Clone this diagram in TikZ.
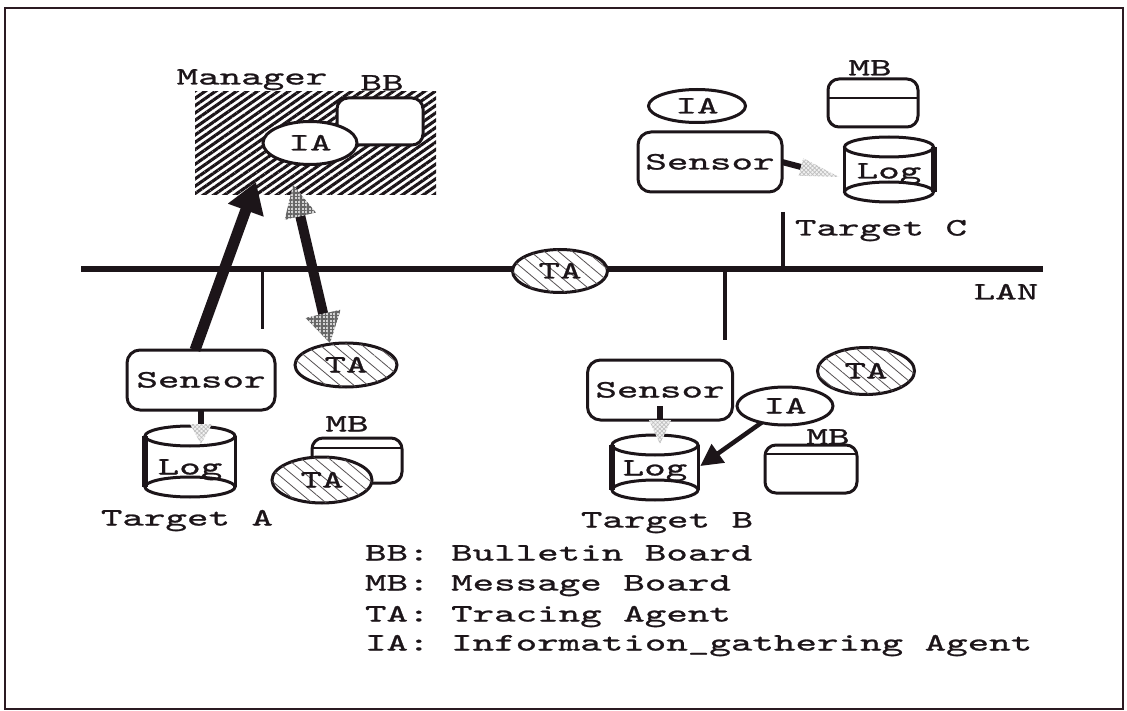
\documentclass[tikz,border=0pt]{standalone}
\usepackage{fontspec}
\newfontfamily\typewriterface[FakeStretch=1.64,FakeBold=1]{lmmono10-regular.otf}
\usetikzlibrary{shapes.geometric,patterns.meta,arrows.meta,calc}
\definecolor{ink}{HTML}{1C1519}
\definecolor{framecol}{HTML}{2B1A22}
\newcommand\diagfont{\typewriterface\fontsize{25}{28}\selectfont}

% log store: name, half width, rise to the rim, drop to the base, heavier wall
\newcommand\logcyl[5]{%
  \draw[outline] ($(#1)+(0,-#3)$) ellipse [x radius=#2pt, y radius=10pt];
  \draw[outline] ($(#1)+(0,#4)$) ellipse [x radius=#2pt, y radius=10pt];
  \draw[outline] ($(#1)+(-#2,-#3)$) -- ($(#1)+(-#2,#4)$);
  \draw[outline] ($(#1)+(#2,-#3)$) -- ($(#1)+(#2,#4)$);
  \draw[outline, line width=6pt] ($(#1)+(#5*#2,-#3)$) -- ($(#1)+(#5*#2,#4)$);
}

\tikzset{
  every node/.style={font=\diagfont, text=ink, inner sep=0pt, outer sep=0pt,
    text height=15pt, text depth=0pt},
  outline/.style={draw=ink, line width=3pt},
  sensorbox/.style={outline, rectangle, rounded corners=13pt, fill=white, minimum height=60pt},
  boardbox/.style={outline, rectangle, rounded corners=11pt, fill=white},
  agent/.style={outline, ellipse, fill=white},
  tracer/.style={agent, postaction={pattern={Lines[angle=-40,distance=9pt,line width=0.8pt]},
    pattern color=ink!75}},
  hatchzone/.style={rectangle, pattern={Lines[angle=35,distance=6pt,line width=3.1pt]},
    pattern color=ink},
  meshhead/.style={fill=gray!35, postaction={pattern={Hatch[angle=0,distance=3.5pt,line width=1.2pt]},
    pattern color=gray!80!black}},
  palehead/.style={fill=gray!10, postaction={pattern={Hatch[angle=45,distance=3pt,line width=0.7pt]},
    pattern color=gray!50}},
  bus/.style={draw=ink, line width=6.5pt},
  tap/.style={draw=ink, line width=4pt},
  lidline/.style={draw=ink, line width=2.5pt},
}

\begin{document}
\begin{tikzpicture}[x=1pt, y=-1pt]
\useasboundingbox (0,0) rectangle (1127,711);
\fill[white] (0,0) rectangle (1127,711);
\draw[framecol, line width=2.2pt] (5,8) rectangle (1123,709);

% ---------- manager ----------
\node[hatchzone, minimum width=241pt, minimum height=103pt] (mgr) at (315.5,143.5) {};
\node (mgrlabel) at (252,77) {Manager};
\node (bblabel) at (382,83) {BB};
\node[boardbox, minimum width=86pt, minimum height=47pt] (bb) at (380,121.5) {};
\node[agent, minimum width=94pt, minimum height=43pt] (iaM) at (310,143) {IA};

% ---------- LAN ----------
\coordinate (lanW) at (81,269);
\coordinate (lanE) at (1043,269);
\draw[bus] (lanW) -- (lanE);
\node (lanlabel) at (1006,292) {LAN};

\coordinate (tapA) at (262,329);
\coordinate (tapB) at (725,340);
\coordinate (tapC) at (783,212);
\draw[tap, line width=3pt] (tapA |- lanW) -- (tapA);
\draw[tap] (tapB |- lanW) -- (tapB);
\draw[tap] (tapC) -- (tapC |- lanW);

\node[tracer, minimum width=95pt, minimum height=43pt] (taLan) at (560,271) {TA};

% ---------- target C ----------
\node[agent, minimum width=97pt, minimum height=33pt] (iaC) at (697,106) {IA};
\node (mbClabel) at (870,68) {MB};
\node[boardbox, minimum width=90pt, minimum height=48pt] (mbC) at (873,103) {};
\draw[lidline] ($(mbC.north west)+(0,19)$) -- ($(mbC.north east)+(0,19)$);
\node[sensorbox, minimum width=144pt] (sensC) at (710,162) {Sensor};
\node (logC) at (889,171) {Log};
\logcyl{logC}{44.5}{24}{21}{1}
\node (tgtC) at (881,228) {Target C};

\coordinate (stubC) at ($(sensC.east)+(19,5)$);
\coordinate (tipC) at ($(stubC)+(38,10)$);
\draw[ink, line width=6pt] (sensC.east) -- (stubC);
\fill[palehead] (tipC) -- ($(stubC)!9pt!90:(tipC)$) -- ($(stubC)!9pt!-90:(tipC)$) -- cycle;

% ---------- target A ----------
\node[sensorbox, minimum width=148pt] (sensA) at (201,380) {Sensor};
\node (logA) at (190,467) {Log};
\logcyl{logA}{45}{31}{20}{-1}
\node[tracer, minimum width=102pt, minimum height=44pt] (taA) at (346,365) {TA};
\node (mbAlabel) at (347,424) {MB};
\node[boardbox, minimum width=90pt, minimum height=45pt] (mbA) at (357,460.5) {};
\draw[lidline] ($(mbA.north west)+(0,10)$) -- ($(mbA.north east)+(0,10)$);
\node[tracer, minimum width=100pt, minimum height=46pt] (taA2) at (322,480) {TA};
\node (tgtA) at (187,518) {Target A};

\coordinate (stubA) at ($(sensA.south)+(0,14)$);
\draw[ink, line width=6pt] (sensA.south) -- (stubA);
\fill[palehead] ($(stubA)+(-11,0)$) -- ($(stubA)+(11,0)$) -- ($(stubA)+(0,20)$) -- cycle;

% ---------- target B ----------
\node[sensorbox, minimum width=145pt] (sensB) at (660,390) {Sensor};
\node (logB) at (655,468) {Log};
\logcyl{logB}{43}{23}{22}{-1}
\node[agent, minimum width=96pt, minimum height=38pt] (iaB) at (785,406) {IA};
\node[tracer, minimum width=97pt, minimum height=47pt] (taB) at (866,371) {TA};
\node (mbBlabel) at (828,437) {MB};
\node[boardbox, minimum width=92pt, minimum height=48pt] (mbB) at (811,469) {};
\draw[lidline] ($(mbB.north west)+(0,9)$) -- ($(mbB.north east)+(0,9)$);
\node (tgtB) at (667,520) {Target B};

\draw[ink, line width=6pt] ($(sensB.south)+(0,-14)$) -- (sensB.south);
\fill[palehead] ($(sensB.south)+(-11,0)$) -- ($(sensB.south)+(11,0)$) -- ($(sensB.south)+(0,24)$) -- cycle;

\coordinate (logBhit) at ($(logB.east)+(13,-2)$);
\draw[ink, line width=4.5pt, -{Triangle[length=22pt,width=22pt]}] (iaB) -- (logBhit);

% ---------- agent traffic to and from the manager ----------
\coordinate (upTail) at ($(sensA.north)+(-6,0)$);
\coordinate (upTip) at (256,182);
\draw[ink, line width=11pt, -{Triangle[length=30pt,width=36pt]}] (upTail) -- (upTip);

\coordinate (dnTop) at (293,185);
\coordinate (dnTip) at ($(taA.north)+(-16,0)$);
\coordinate (dnB1) at ($(dnTop)!32pt!(dnTip)$);
\coordinate (dnB2) at ($(dnTip)!30pt!(dnTop)$);
\draw[ink, line width=10pt] (dnB1) -- (dnB2);
\fill[meshhead] (dnTop) -- ($(dnB1)!16pt!90:(dnTip)$) -- ($(dnB1)!16pt!-90:(dnTip)$) -- cycle;
\fill[meshhead] (dnTip) -- ($(dnB2)!18pt!90:(dnTop)$) -- ($(dnB2)!18pt!-90:(dnTop)$) -- cycle;

% ---------- key ----------
\node[anchor=west] (keyBB) at (365,553) {BB: Bulletin Board};
\node[anchor=west] (keyMB) at (365,583) {MB: Message Board};
\node[anchor=west] (keyTA) at (365,614) {TA: Tracing Agent};
\node[anchor=west] (keyIA) at (365,643) {IA: Information\_gathering Agent};
\end{tikzpicture}
\end{document}
